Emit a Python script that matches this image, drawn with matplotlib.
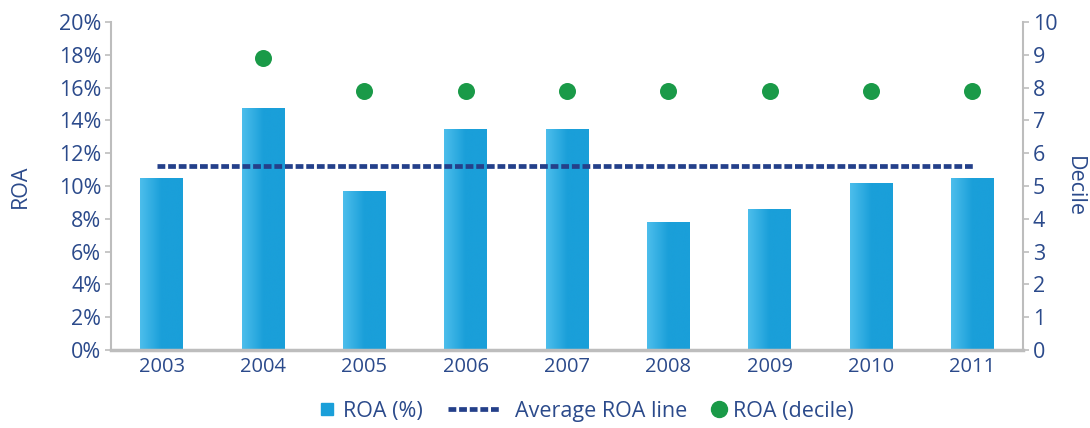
import numpy as np
import matplotlib
matplotlib.use('Agg')
import matplotlib.pyplot as plt
from matplotlib.lines import Line2D
from matplotlib.ticker import PercentFormatter

plt.rcParams['font.family'] = ['Open Sans', 'DejaVu Sans']

years = ['2003', '2004', '2005', '2006', '2007', '2008', '2009', '2010', '2011']
roa_pct = [10.5, 14.75, 9.7, 13.5, 13.5, 7.8, 8.6, 10.2, 10.5]
avg_roa = 11.2
roa_decile = [None, 8.9, 7.9, 7.9, 7.9, 7.9, 7.9, 7.9, 7.9]

txt = '#2B4A8B'
spine = '#BDBDBD'
navy = '#24408A'
green = '#1A9A48'
fs = 15.5

fig = plt.figure(figsize=(10.9, 4.28), dpi=100)
ax = fig.add_axes([111/1090, 1 - 350/428, 912/1090, 328/428])
ax2 = ax.twinx()

x = np.arange(len(years))
bars = ax.bar(x, roa_pct, width=0.42, color='#1A9FD9', zorder=2)

# horizontal gradient on each bar
grad = np.linspace(0, 1, 256).reshape(1, -1)
cmap = matplotlib.colors.LinearSegmentedColormap.from_list('g', ['#4DBEEC', '#1A9FD9', '#1A9FD9'])
for b in bars:
    x0, y0 = b.get_x(), b.get_y()
    w, h = b.get_width(), b.get_height()
    im = ax.imshow(grad, extent=[x0, x0 + w, y0, y0 + h], aspect='auto',
                   cmap=cmap, zorder=2.5)
    im.set_clip_path(b)

ax.plot([x[0] - 0.05, x[-1] + 0.02], [avg_roa, avg_roa], color=navy, lw=3.4,
        dashes=(1.65, 0.6), zorder=3)

dx = [xi for xi, d in zip(x, roa_decile) if d is not None]
dy = [d for d in roa_decile if d is not None]
ax2.scatter(dx, dy, s=150, color=green, zorder=4, linewidths=0)

ax.set_xlim(-0.5, len(years) - 0.5)
ax.set_ylim(0, 20)
ax.set_yticks(np.arange(0, 21, 2))
ax.yaxis.set_major_formatter(PercentFormatter(decimals=0))
ax2.set_ylim(0, 10)
ax2.set_yticks(np.arange(0, 11, 1))
ax.set_xticks(x)
ax.set_xticklabels(years)

for a in (ax, ax2):
    for s in a.spines.values():
        s.set_visible(False)
ax.spines['left'].set_visible(True)
ax.spines['bottom'].set_visible(True)
ax2.spines['right'].set_visible(True)
ax.spines['left'].set_color(spine)
ax.spines['left'].set_linewidth(1.5)
ax.spines['bottom'].set_color(spine)
ax.spines['bottom'].set_linewidth(2.5)
ax2.spines['right'].set_color(spine)
ax2.spines['right'].set_linewidth(1.5)

ax.tick_params(axis='y', colors=spine, labelcolor=txt, labelsize=fs, length=4, width=1.2, pad=3)
ax.tick_params(axis='x', length=0, labelcolor=txt, labelsize=14.5, pad=5)
ax2.tick_params(axis='y', colors=spine, labelcolor=txt, labelsize=fs, length=4, width=1.2, pad=3)

ax.set_ylabel('ROA', color=txt, fontsize=fs, labelpad=20)
ax2.set_ylabel('Decile', color=txt, fontsize=fs, rotation=270, labelpad=20)

# legend: one entry per legend so the gaps can follow the reference
sq = Line2D([], [], marker='s', color='#1A9FD9', linestyle='none', markersize=8)
dash = Line2D([], [], color=navy, lw=3.4, dashes=(1.65, 0.6))
dot = Line2D([], [], marker='o', color=green, linestyle='none', markersize=11.5)
entries = [
    (sq, 'ROA (%)', 321, 0.56, 0.47),
    (dash, 'Average ROA line', 448, 2.47, 0.62),
    (dot, 'ROA (decile)', 711, 0.74, 0.28),
]
for h, lab, left, hl, tp in entries:
    fig.legend([h], [lab], loc='center left', bbox_to_anchor=(left/1090, 1 - 411/428),
               frameon=False, fontsize=fs, labelcolor=txt, handlelength=hl,
               handletextpad=tp, borderpad=0, borderaxespad=0)

fig.savefig('out.png', dpi=100)
